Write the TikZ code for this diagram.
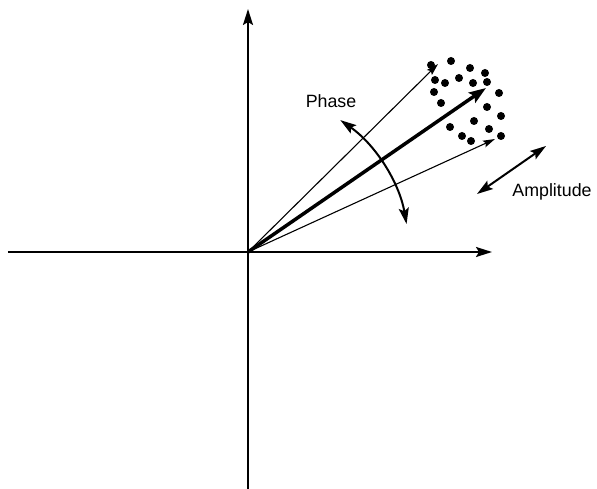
\documentclass[tikz,border=0pt]{standalone}
\usepackage{fontspec}
\setmainfont{Liberation Sans}
\usepackage{tikz}
\usetikzlibrary{arrows.meta,positioning,calc}
\definecolor{ink}{HTML}{000000}
\tikzset{
    every picture/.style={line join=round},
    axisline/.style={draw=ink,line width=2pt,-{Stealth[length=16pt,width=10pt,inset=3pt]}},
    vecthin/.style={draw=ink,line width=1.1pt,-{Stealth[length=12pt,width=7pt,inset=2pt]}},
    vecthick/.style={draw=ink,line width=3.5pt,-{Stealth[length=17pt,width=12pt,inset=3pt]}},
    bothway/.style={draw=ink,line width=2pt,{Stealth[length=16pt,width=10pt,inset=3pt]}-{Stealth[length=16pt,width=10pt,inset=3pt]}},
    symdot/.style={circle,fill=ink,minimum size=8pt,inner sep=0pt},
    plotlabel/.style={text=ink,font=\fontsize{17.8}{20}\selectfont,inner sep=0pt}
}

\begin{document}
\begin{tikzpicture}[x=1pt,y=1pt]
    \useasboundingbox (-248,-237) rectangle (349,252);
    % axes
    \coordinate (origin) at (0,0);
    \coordinate (west) at (-240,0);
    \coordinate (east) at (244,0);
    \coordinate (south) at (0,-240);
    \coordinate (north) at (0,243);
    \draw[axisline,-] (west)--(origin);
    \draw[axisline] (origin)--(east);
    \draw[axisline,-] (south)--(origin);
    \draw[axisline] (origin)--(north);
    % received symbols
    \foreach \px/\py [count=\i] in {183/187,203/191,222/184,237/179,187/172,197/169,
        211/174,225/169,239/170,186/160,251/159,193/149,239/145,253/136,226/131,
        202/125,241/123,214/116,223/111,253/116}
        \node[symdot] (sym\i) at (\px,\py) {};
    % vectors
    \coordinate (upper) at (190,188);
    \coordinate (mean) at (238,164);
    \coordinate (lower) at (247,113);
    \draw[vecthin] (origin)--(upper);
    \draw[vecthick] (origin)--(mean);
    \draw[vecthin] (origin)--(lower);
    % phase
    \draw[bothway] (10:161) arc[start angle=10,end angle=55,radius=161];
    \node[plotlabel] (phase) at (83,151) {Phase};
    % amplitude
    \coordinate (ampin) at (229,58);
    \coordinate (ampout) at (298,106);
    \draw[bothway] (ampin)--(ampout);
    \node[plotlabel] (amplitude) at (304,60) {Amplitude};
\end{tikzpicture}
\end{document}
